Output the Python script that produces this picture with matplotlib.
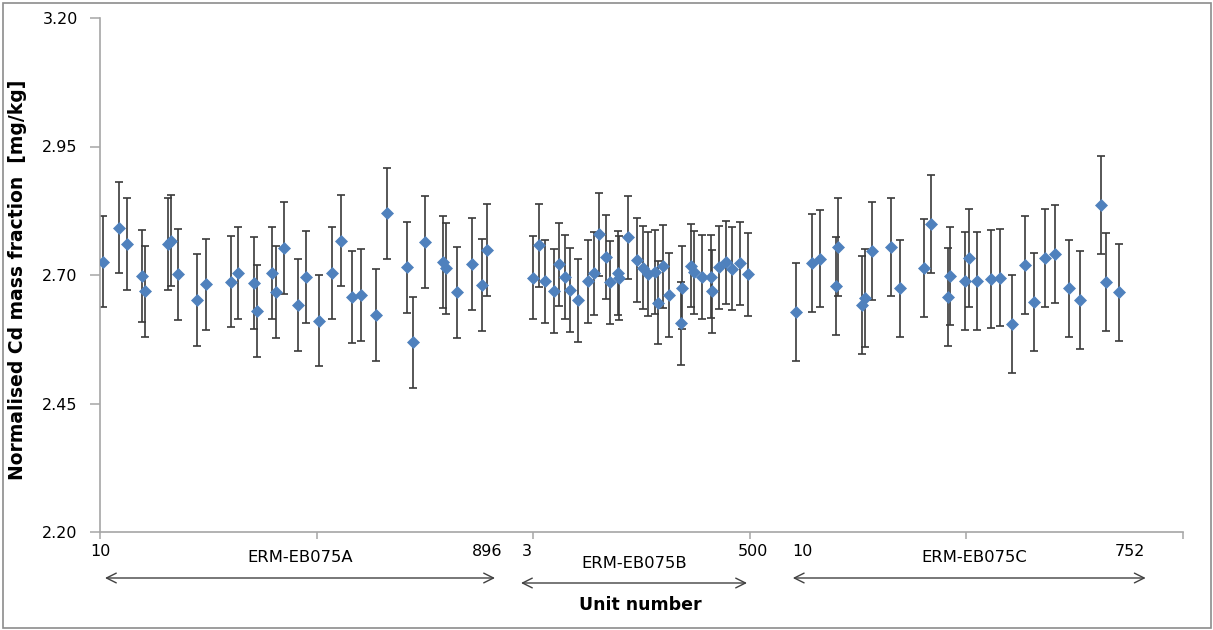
import matplotlib
matplotlib.use("Agg")
import matplotlib.pyplot as plt
from matplotlib.transforms import blended_transform_factory
from matplotlib.patches import Rectangle

# ---------------- data ----------------
groups = ["ERM-EB075A", "ERM-EB075B", "ERM-EB075C"]
unit_first = ["10", "3", "10"]
unit_last = ["896", "500", "752"]

xa = [0.3, 1.75, 2.47, 3.91, 4.16, 6.31, 6.56, 7.23, 8.98, 9.82, 12.10, 12.77, 14.22, 14.52,
      15.85, 16.25, 16.99, 18.25, 19.02, 20.22, 21.45, 22.25, 23.24, 24.13, 25.51, 26.47,
      28.37, 28.90, 30.01, 31.70, 31.95, 32.96, 34.32, 35.27, 35.76]
ya = [2.726, 2.792, 2.760, 2.698, 2.668, 2.760, 2.767, 2.701, 2.651, 2.682, 2.687, 2.704,
      2.684, 2.630, 2.704, 2.667, 2.753, 2.642, 2.696, 2.611, 2.704, 2.767, 2.657, 2.661,
      2.622, 2.820, 2.715, 2.569, 2.764, 2.725, 2.713, 2.666, 2.721, 2.681, 2.749]
ea = 0.089

xb = [40.01, 40.60, 41.15, 41.92, 42.41, 42.91, 43.40, 44.14, 45.06, 45.61, 46.10, 46.75,
      47.09, 47.89, 47.95, 48.75, 49.65, 50.17, 50.63, 51.31, 51.59, 52.01, 52.60, 53.67,
      53.80, 54.63, 54.85, 55.65, 56.44, 56.51, 57.16, 57.80, 58.42, 59.10, 59.90]
yb = [2.695, 2.758, 2.688, 2.669, 2.721, 2.696, 2.671, 2.651, 2.688, 2.703, 2.779, 2.735,
      2.686, 2.704, 2.694, 2.773, 2.729, 2.714, 2.702, 2.706, 2.646, 2.717, 2.661, 2.606,
      2.675, 2.718, 2.705, 2.696, 2.697, 2.668, 2.715, 2.725, 2.712, 2.723, 2.701]
eb = 0.081

xc = [64.33, 65.77, 66.48, 67.99, 68.21, 70.36, 70.64, 71.31, 73.04, 73.87, 76.11, 76.79,
      78.33, 78.55, 79.93, 80.30, 81.04, 82.27, 83.16, 84.24, 85.47, 86.24, 87.32, 88.20,
      89.50, 90.49, 92.43, 92.89, 94.09]
yc = [2.628, 2.723, 2.732, 2.679, 2.754, 2.642, 2.655, 2.747, 2.754, 2.674, 2.713, 2.799,
      2.657, 2.698, 2.688, 2.733, 2.688, 2.692, 2.695, 2.605, 2.719, 2.647, 2.733, 2.741,
      2.674, 2.652, 2.836, 2.686, 2.666]
ec = 0.095

yticks = [2.20, 2.45, 2.70, 2.95, 3.20]
xticks = [0, 20, 40, 60, 80, 100]

# ---------------- figure ----------------
W, H = 1213, 630
fig = plt.figure(figsize=(W / 100, H / 100), dpi=100)
ax = fig.add_axes([100 / W, 1 - 532 / H, (1182.5 - 100) / W, (532 - 18) / H])

grey = "#A6A6A6"
marker_col = "#4F81BD"
bar_col = "#3A3A3A"

for xs, ys, e in ((xa, ya, ea), (xb, yb, eb), (xc, yc, ec)):
    ax.errorbar(xs, ys, yerr=e, fmt="none", ecolor=bar_col, elinewidth=1.2,
                capsize=2.8, capthick=1.2, zorder=2)
    ax.plot(xs, ys, linestyle="none", marker="D", markersize=6.6,
            markerfacecolor=marker_col, markeredgecolor=marker_col,
            markeredgewidth=0.5, zorder=3)

ax.set_xlim(0, 100)
ax.set_ylim(2.20, 3.20)
ax.set_yticks(yticks)
ax.set_yticklabels([f"{v:.2f}" for v in yticks], fontsize=11.5)
ax.set_xticks(xticks)
ax.set_xticklabels([])
for s in ("top", "right"):
    ax.spines[s].set_visible(False)
for s in ("left", "bottom"):
    ax.spines[s].set_color(grey)
    ax.spines[s].set_linewidth(1.2)
ax.tick_params(axis="y", direction="out", length=7, width=1.1, color=grey, pad=9)
ax.tick_params(axis="x", direction="out", length=5, width=1.1, color=grey)

fig.text(18 / W, 1 - 280 / H, "Normalised Cd mass fraction  [mg/kg]", rotation=90,
         fontsize=13.5, fontweight="bold", ha="center", va="center")

tr = blended_transform_factory(ax.transData, fig.transFigure)
fy = lambda py: 1 - py / H

first_x = [0.0, 39.4, 64.85]
last_x = [35.74, 60.3, 95.15]
name_x = [18.47, 49.33, 80.74]
name_y = [557, 563, 557]
arr_x0 = [0.46, 38.89, 64.0]
arr_x1 = [36.49, 59.77, 96.6]
arr_y = [578, 583, 578]

for i in range(3):
    ax.text(first_x[i], fy(552), unit_first[i], transform=tr, fontsize=11.5,
            ha="center", va="center")
    ax.text(last_x[i], fy(552), unit_last[i], transform=tr, fontsize=11.5,
            ha="center", va="center")
    ax.text(name_x[i], fy(name_y[i]), groups[i], transform=tr, fontsize=11.8,
            ha="center", va="center")
    ax.annotate("", xy=(arr_x1[i], fy(arr_y[i])), xytext=(arr_x0[i], fy(arr_y[i])),
                xycoords=tr, textcoords=tr, annotation_clip=False,
                arrowprops=dict(arrowstyle="<->,head_length=0.7,head_width=0.35",
                                color="#404040", lw=1.0, shrinkA=0, shrinkB=0))

ax.text(49.88, fy(605), "Unit number", transform=tr, fontsize=12.5, fontweight="bold",
        ha="center", va="center")

fig.patches.append(Rectangle((2.5 / W, 2.5 / H), (W - 5) / W, (H - 5) / H,
                             transform=fig.transFigure, fill=False,
                             edgecolor="#8C8C8C", linewidth=1.2))

fig.savefig("out.png", dpi=100)
